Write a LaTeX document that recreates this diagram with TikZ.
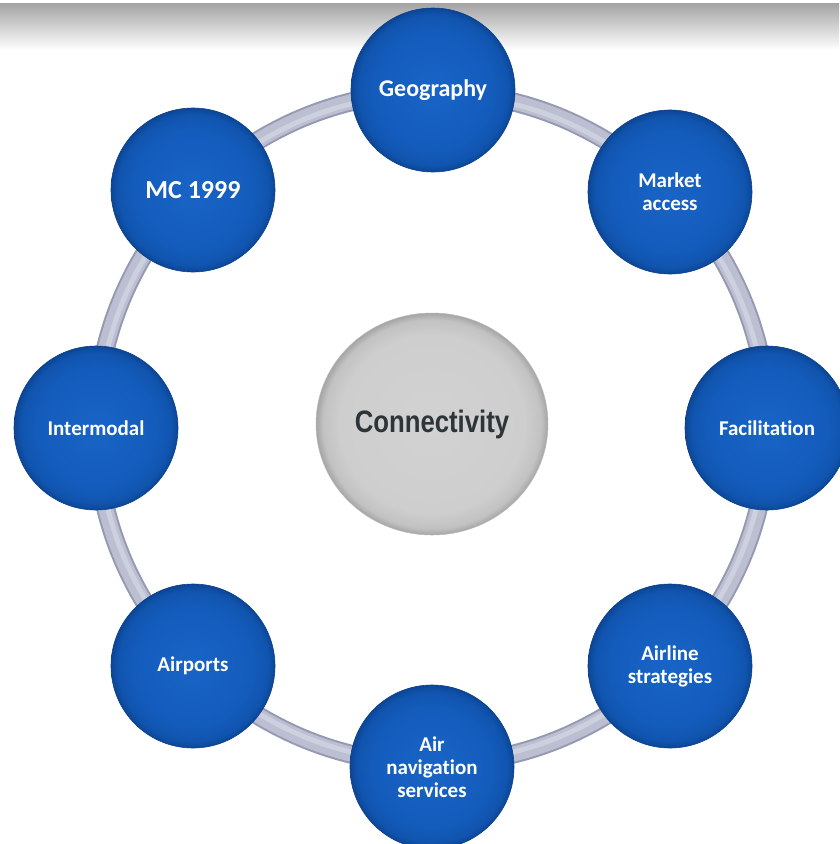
\documentclass[tikz,border=0pt]{standalone}
\usepackage{fontspec}
\setmainfont[Ligatures={NoCommon}]{Carlito}
\newfontfamily\arialfont{Liberation Sans}
\usetikzlibrary{shapes.geometric}
\definecolor{ringdark}{HTML}{9599B1}
\definecolor{ringlight}{HTML}{BBBFD1}
\definecolor{ringhi}{HTML}{CDD0DE}
\definecolor{bluerim}{HTML}{0A3F8A}
\definecolor{txtdark}{HTML}{2D3538}
\pgfdeclareradialshading{bluesh}{\pgfpoint{0bp}{0bp}}{color(0bp)=(rgb,255:red,24;green,100;blue,198); color(18bp)=(rgb,255:red,20;green,92;blue,188); color(23bp)=(rgb,255:red,16;green,84;blue,174); color(25bp)=(rgb,255:red,12;green,70;blue,150); color(50bp)=(rgb,255:red,12;green,70;blue,150)}
\pgfdeclareradialshading{graysh}{\pgfpoint{0bp}{0bp}}{color(0bp)=(rgb,255:red,210;green,210;blue,210); color(20bp)=(rgb,255:red,206;green,206;blue,206); color(23.5bp)=(rgb,255:red,194;green,194;blue,194); color(25bp)=(rgb,255:red,165;green,165;blue,165); color(50bp)=(rgb,255:red,165;green,165;blue,165)}
\tikzset{
  bluenode/.style={circle, minimum size=164pt, inner sep=0pt, shading=bluesh, draw=bluerim, line width=0.6pt,
    text=white, align=center, font=\bfseries\fontsize{21}{23}\selectfont},
  centernode/.style={ellipse, minimum width=232pt, minimum height=222pt, inner sep=0pt, shading=graysh, draw=gray!55, line width=0.5pt,
    text=txtdark, font=\arialfont\bfseries\fontsize{31}{34}\selectfont},
}
\begin{document}
\begin{tikzpicture}[x=1pt,y=-1pt]
\useasboundingbox (0,0) rectangle (839,844);
\fill[white] (0,0) rectangle (839,844);
\shade[top color=gray!72, bottom color=white] (0,3) rectangle (839,50);
\coordinate (ctr) at (432,428);
% ring
\draw[ringdark, line width=19pt] (ctr) circle[radius=336];
\draw[ringlight, line width=15pt] (ctr) circle[radius=336];
\draw[ringhi, line width=5pt] (ctr) circle[radius=334];
% center
\node[centernode] (conn) at (432,424) {\scalebox{0.83}[1]{Connectivity}};
% outer nodes
\node[bluenode] (geo) at (433,90) {\fontsize{24}{26}\selectfont Geography};
\node[bluenode] (mkt) at (670,192) {Market\\access};
\node[bluenode] (fac) at (767,428) {Facilitation};
\node[bluenode] (air) at (670,666) {Airline\\strategies};
\node[bluenode] (ans) at (432,767) {Air\\navigation\\services};
\node[bluenode] (apt) at (193,666) {Airports};
\node[bluenode] (int) at (96,428) {Intermodal};
\node[bluenode] (mc) at (193,190) {\fontsize{26}{28}\selectfont MC 1999};
\end{tikzpicture}
\end{document}
